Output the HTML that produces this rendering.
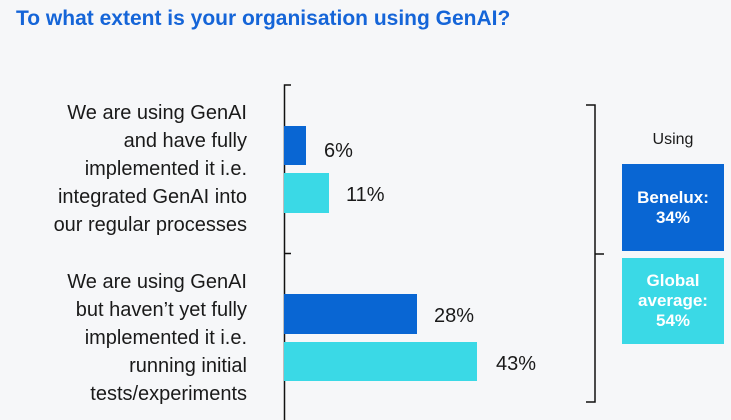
<!DOCTYPE html>
<html><head><meta charset="utf-8"><style>
body{margin:0;width:731px;height:420px;background:#f6f7f9;font-family:"Liberation Sans",sans-serif;position:relative;overflow:hidden;color:#1a1a1a}
.a{position:absolute}
.t{left:16px;top:7px;font-size:21px;font-weight:bold;color:#1565d8;white-space:nowrap}
.lab{right:484px;text-align:right;font-size:20px;line-height:28px;white-space:nowrap}
.v{font-size:20px;line-height:20px}
.box{left:622px;width:102px;color:#fff;font-weight:bold;font-size:17px;line-height:20px;text-align:center;display:flex;align-items:center;justify-content:center}
</style></head><body>
<div class="a t">To what extent is your organisation using GenAI?</div>
<div class="a lab" style="top:99px">We are using GenAI<br>and have fully<br>implemented it i.e.<br>integrated GenAI into<br>our regular processes</div>
<div class="a lab" style="top:268px">We are using GenAI<br>but haven’t yet fully<br>implemented it i.e.<br>running initial<br>tests/experiments</div>
<svg class="a" style="left:0;top:0" width="731" height="420">
<g stroke="#111" stroke-width="1.5" fill="none">
<path d="M291 85H284.5V420M284.5 253.5H291"/>
<path d="M586 105H595V402H586M595 254H604"/>
</g>
<rect x="284" y="126" width="22" height="39" fill="#0966d3"/>
<rect x="284" y="173" width="45" height="40" fill="#3ad9e6"/>
<rect x="284" y="294" width="133" height="40" fill="#0966d3"/>
<rect x="284" y="342" width="193" height="39" fill="#3ad9e6"/>
</svg>
<div class="a v" style="left:324px;top:141px">6%</div>
<div class="a v" style="left:346px;top:185px">11%</div>
<div class="a v" style="left:434px;top:306px">28%</div>
<div class="a v" style="left:496px;top:354px">43%</div>
<div class="a" style="left:622px;width:102px;text-align:center;top:131px;font-size:16px">Using</div>
<div class="a box" style="top:164px;height:87px;background:#0966d3">Benelux:<br>34%</div>
<div class="a box" style="top:258px;height:86px;background:#3ad9e6">Global<br>average:<br>54%</div>
</body></html>
